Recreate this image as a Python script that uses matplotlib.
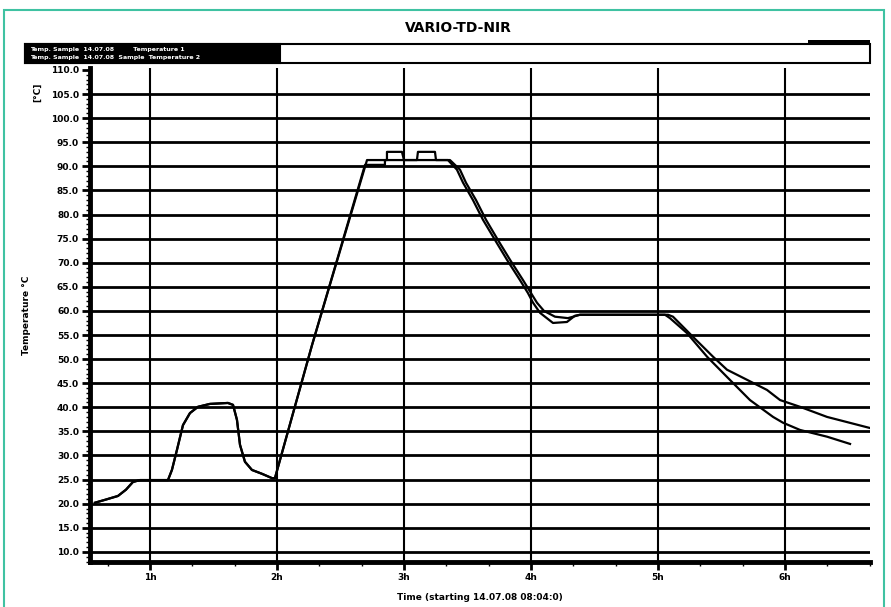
import matplotlib.pyplot as plt
from matplotlib.patches import Rectangle
from matplotlib.ticker import MultipleLocator

# readings, hours since start / deg C
t1_hours = [0.567, 0.646, 0.748, 0.811, 0.866, 0.921, 1.142, 1.173, 1.213, 1.260,
            1.315, 1.378, 1.472, 1.614, 1.654, 1.685, 1.709, 1.748, 1.803, 1.882,
            1.961, 1.984, 2.276, 2.693, 2.850, 2.850, 3.346, 3.417, 3.465, 3.543,
            3.622, 3.717, 3.811, 3.913, 3.976, 4.016, 4.071, 4.173, 4.283, 4.346,
            4.386, 5.079, 5.118, 5.276, 5.433, 5.543, 5.701, 5.858, 5.961, 6.118,
            6.331, 6.669]
t1_temp = [20.2, 20.8, 21.6, 22.9, 24.5, 24.9, 24.9, 27.0, 31.2, 36.3,
           38.8, 40.1, 40.7, 40.9, 40.5, 37.4, 32.2, 28.7, 27.0, 26.2,
           25.3, 25.3, 52.9, 90.3, 90.3, 91.3, 91.3, 89.3, 86.6, 83.0,
           78.9, 74.7, 70.6, 66.4, 63.7, 61.7, 59.6, 57.5, 57.7, 59.0,
           59.2, 59.2, 58.8, 54.6, 50.5, 47.8, 45.7, 43.6, 41.5, 40.1,
           38.0, 35.7]

t2_hours = [0.567, 0.646, 0.748, 0.811, 0.866, 0.921, 1.142, 1.173, 1.213, 1.260,
            1.315, 1.378, 1.472, 1.614, 1.654, 1.685, 1.709, 1.748, 1.803, 1.882,
            1.961, 1.984, 2.276, 2.709, 2.866, 2.866, 2.984, 3.000, 3.102, 3.110,
            3.244, 3.252, 3.362, 3.441, 3.488, 3.567, 3.646, 3.740, 3.835, 3.937,
            4.000, 4.047, 4.102, 4.189, 4.291, 4.386, 5.055, 5.094, 5.228, 5.386,
            5.543, 5.724, 5.906, 5.984, 6.118, 6.331, 6.512]
t2_temp = [20.2, 20.8, 21.6, 22.9, 24.5, 24.9, 24.9, 27.0, 31.2, 36.3,
           38.8, 40.1, 40.7, 40.9, 40.5, 37.4, 32.2, 28.7, 27.0, 26.2,
           25.3, 25.3, 52.9, 91.3, 91.3, 93.0, 93.0, 91.3, 91.3, 93.0,
           93.0, 91.3, 91.3, 89.3, 86.6, 83.0, 78.9, 74.7, 70.6, 66.4,
           63.7, 61.7, 60.0, 58.8, 58.5, 59.2, 59.2, 58.5, 55.4, 50.5,
           46.3, 41.5, 38.0, 36.8, 35.3, 33.9, 32.4]

y_ticks = list(range(10, 111, 5))
x_ticks = [1, 2, 3, 4, 5, 6]
x_labels = ['1h', '2h', '3h', '4h', '5h', '6h']

fig = plt.figure(figsize=(8.91, 6.07), dpi=100)
ax = fig.add_axes([90 / 891, 1 - 562 / 607, 780 / 891, 494 / 607])

ax.plot(t1_hours, t1_temp, color='black', lw=1.6, zorder=3)
ax.plot(t2_hours, t2_temp, color='black', lw=1.6, zorder=3)

ax.set_xlim(0.528, 6.669)
ax.set_ylim(7.9, 110.4)

ax.set_yticks(y_ticks)
ax.set_yticklabels(['%.1f' % v for v in y_ticks], fontsize=6.5, fontweight='bold')
ax.yaxis.set_minor_locator(MultipleLocator(1))
ax.set_xticks(x_ticks)
ax.set_xticklabels(x_labels, fontsize=6.5, fontweight='bold')
ax.xaxis.set_minor_locator(MultipleLocator(1 / 3))

ax.tick_params(axis='both', which='major', length=6, width=2, color='black', pad=2)
ax.tick_params(axis='both', which='minor', length=3, width=1, color='black')

for v in y_ticks[:-1]:
    ax.axhline(v, color='black', lw=2, zorder=1)
for h in x_ticks:
    ax.axvline(h, color='black', lw=1.5, zorder=1)

for side in ['top', 'right']:
    ax.spines[side].set_visible(False)
for side in ['left', 'bottom']:
    ax.spines[side].set_linewidth(3.5)

ax.set_ylabel('Temperature °C', fontsize=6.5, fontweight='bold', labelpad=14)
ax.set_xlabel('Time (starting 14.07.08 08:04:0)', fontsize=6.5, fontweight='bold', labelpad=8)
fig.text(38 / 891, 1 - 92 / 607, '[°C]', rotation=90, fontsize=6.5, fontweight='bold',
         ha='center', va='center')

fig.text(458 / 891, 1 - 28 / 607, 'VARIO-TD-NIR', fontsize=10, fontweight='bold',
         ha='center', va='center')

# legend strip under the title
fig.patches.append(Rectangle((25 / 891, 1 - 63 / 607), 845 / 891, 19 / 607,
                             transform=fig.transFigure, fill=False, ec='black', lw=1.5))
fig.patches.append(Rectangle((25 / 891, 1 - 63 / 607), 255 / 891, 19 / 607,
                             transform=fig.transFigure, fc='black', ec='black', lw=1.5))
fig.patches.append(Rectangle((808 / 891, 1 - 44 / 607), 62 / 891, 4 / 607,
                             transform=fig.transFigure, fc='black', ec='black', lw=0))
fig.text(30 / 891, 1 - 49 / 607, 'Temp. Sample  14.07.08         Temperature 1',
         color='white', fontsize=4.5, fontweight='bold', va='center')
fig.text(30 / 891, 1 - 58 / 607, 'Temp. Sample  14.07.08  Sample  Temperature 2',
         color='white', fontsize=4.5, fontweight='bold', va='center')

# teal frame of the scan
fig.patches.append(Rectangle((4 / 891, -0.01), 880 / 891, 1 - 10 / 607 + 0.01,
                             transform=fig.transFigure, fill=False, ec='#3fc2a2', lw=1.5))

fig.savefig('out.png', dpi=100)
